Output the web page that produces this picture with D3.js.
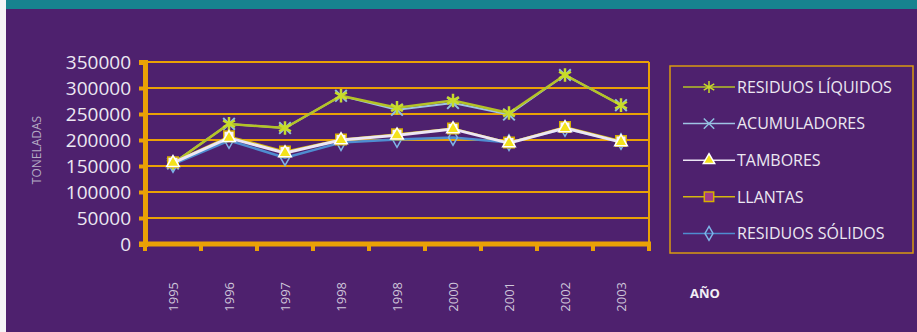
<!DOCTYPE html>
<html>
<head>
<meta charset="utf-8">
<script src="https://cdn.jsdelivr.net/npm/d3@7"></script>
<style>
  body { margin: 0; background: #4e216e; }
  svg { display: block; }
</style>
</head>
<body>
<svg id="drawing_region"></svg>
<script>
// categories as printed under the axis (1998 really appears twice)
const years = ['1995', '1996', '1997', '1998', '1998', '2000', '2001', '2002', '2003'];
const yTicks = [0, 50000, 100000, 150000, 200000, 250000, 300000, 350000];

const liquidos    = [155000, 231000, 223000, 285000, 262000, 276000, 252000, 325000, 267000];
const acumuladores = [155000, 231000, 223000, 285000, 258000, 271000, 249000, 325000, 267000];
const tambores    = [156000, 204000, 175000, 200000, 209000, 221000, 194000, 223000, 196000];
const llantas     = [157000, 207000, 178000, 201000, 211000, 222000, 195000, 225000, 198000];
const solidos     = [153000, 199000, 166000, 195000, 201000, 205000, 195000, 222000, 197000];

const seriesNames = ['RESIDUOS LÍQUIDOS', 'ACUMULADORES', 'TAMBORES', 'LLANTAS', 'RESIDUOS SÓLIDOS'];

class LineChart {

    constructor(config) {
        this.config = config;
        this.series = [
            { name: seriesNames[0], values: liquidos, line: '#b4c326', width: 2.5,
              symbol: d3.symbolAsterisk, size: 130, fill: 'none', stroke: '#c8dc2a', sw: 2.5 },
            { name: seriesNames[1], values: acumuladores, line: '#9fc4e4', width: 2,
              symbol: d3.symbolTimes || d3.symbolX, size: 90, fill: 'none', stroke: '#8fc0e0', sw: 2 },
            { name: seriesNames[2], values: tambores, line: '#ece6f4', width: 3,
              symbol: d3.symbolTriangle, size: 70, fill: '#f4e21a', stroke: '#ffffff', sw: 1.5 },
            { name: seriesNames[3], values: llantas, line: '#d4b810', width: 2,
              symbol: d3.symbolSquare, size: 110, fill: '#f6f0fa', stroke: '#d8b000', sw: 1.5 },
            { name: seriesNames[4], values: solidos, line: '#4f8cd0', width: 2.5,
              symbol: d3.symbolDiamond, size: 70, fill: 'none', stroke: '#7db4e8', sw: 1.5 }
        ];
        this.drawOrder = [1, 0, 4, 3, 2];
        this.init();
    }

    init() {
        let self = this;
        const c = self.config;

        self.svg = d3.select(c.parent)
            .attr('width', c.width)
            .attr('height', c.height);

        // background frame: teal strip at top, white edge at left
        self.svg.append('rect').attr('width', c.width).attr('height', c.height).attr('fill', '#4e216e');
        self.svg.append('rect').attr('width', c.width).attr('height', 9).attr('fill', '#17838f');
        self.svg.append('rect').attr('y', 0).attr('width', 6).attr('height', c.height).attr('fill', '#f4f4f6');

        self.xscale = d3.scaleBand()
            .domain(d3.range(years.length))
            .range([c.plot.left, c.plot.right]);

        self.yscale = d3.scaleLinear()
            .domain([0, 350000])
            .range([c.plot.bottom, c.plot.top]);

        self.chart = self.svg.append('g');
    }

    render() {
        let self = this;
        const c = self.config;
        const orange = '#eaa106';

        // horizontal grid
        self.chart.selectAll('.grid')
            .data(yTicks.filter(d => d > 0))
            .enter()
            .append('line')
            .attr('x1', c.plot.left)
            .attr('x2', c.plot.right)
            .attr('y1', d => self.yscale(d))
            .attr('y2', d => self.yscale(d))
            .attr('stroke', orange)
            .attr('stroke-width', 2);

        // right border
        self.chart.append('line')
            .attr('x1', c.plot.right).attr('x2', c.plot.right)
            .attr('y1', self.yscale(350000)).attr('y2', c.plot.bottom)
            .attr('stroke', orange).attr('stroke-width', 2);

        // y axis
        const yAxis = d3.axisLeft(self.yscale)
            .tickValues(yTicks)
            .tickSize(6)
            .tickPadding(8)
            .tickFormat(d => d);
        const ya = self.chart.append('g')
            .attr('transform', `translate(${c.plot.left}, 0)`)
            .call(yAxis);
        ya.select('.domain').attr('stroke', orange).attr('stroke-width', 5);
        ya.selectAll('.tick line').attr('stroke', orange).attr('stroke-width', 4);
        ya.selectAll('.tick text')
            .attr('fill', '#ece8f2')
            .style('font-family', '"Open Sans", sans-serif')
            .style('font-size', '19px')
            .attr('dy', '0.34em');

        // x axis: ticks between categories
        const xa = self.chart.append('g')
            .attr('transform', `translate(0, ${c.plot.bottom})`);
        xa.append('line')
            .attr('x1', c.plot.left - 6).attr('x2', c.plot.right + 2)
            .attr('stroke', orange).attr('stroke-width', 5);
        xa.selectAll('.xtick')
            .data(d3.range(years.length + 1))
            .enter()
            .append('line')
            .attr('x1', d => c.plot.left + d * self.xscale.step())
            .attr('x2', d => c.plot.left + d * self.xscale.step())
            .attr('y1', 0).attr('y2', 7)
            .attr('stroke', orange).attr('stroke-width', 4);
        xa.selectAll('.xlabel')
            .data(years)
            .enter()
            .append('text')
            .attr('transform', (d, i) =>
                `translate(${self.xscale(i) + self.xscale.bandwidth() / 2 + 5}, 38) rotate(-90)`)
            .attr('text-anchor', 'end')
            .attr('fill', '#cfc6da')
            .style('font-family', '"Open Sans", sans-serif')
            .style('font-size', '13px')
            .text(d => d);

        // axis titles
        self.svg.append('text')
            .attr('transform', 'translate(41, 150) rotate(-90)')
            .attr('text-anchor', 'middle')
            .attr('fill', '#b4abc4')
            .style('font-family', '"Open Sans", sans-serif')
            .style('font-size', '12px')
            .text('TONELADAS');
        self.svg.append('text')
            .attr('x', 690).attr('y', 298)
            .attr('fill', '#f2eef6')
            .style('font-family', '"Open Sans", sans-serif')
            .style('font-size', '13px')
            .style('font-weight', 'bold')
            .text('AÑO');

        // lines and markers
        const line = d3.line()
            .x((d, i) => self.xscale(i) + self.xscale.bandwidth() / 2)
            .y(d => self.yscale(d));

        self.drawOrder.forEach(k => {
            const s = self.series[k];
            const g = self.chart.append('g');
            g.append('path')
                .datum(s.values)
                .attr('d', line)
                .attr('fill', 'none')
                .attr('stroke', s.line)
                .attr('stroke-width', s.width)
                .attr('stroke-linejoin', 'round');
            g.selectAll('path.mark')
                .data(s.values)
                .enter()
                .append('path')
                .attr('class', 'mark')
                .attr('transform', (d, i) =>
                    `translate(${self.xscale(i) + self.xscale.bandwidth() / 2}, ${self.yscale(d)})`)
                .attr('d', d3.symbol().type(s.symbol).size(s.size))
                .attr('fill', s.fill)
                .attr('stroke', s.stroke)
                .attr('stroke-width', s.sw);
        });

        // legend
        const L = c.legend;
        self.svg.append('rect')
            .attr('x', L.x).attr('y', L.y)
            .attr('width', L.w).attr('height', L.h)
            .attr('fill', 'none')
            .attr('stroke', '#d99a10')
            .attr('stroke-width', 1.5);

        const items = self.svg.selectAll('.legend')
            .data(self.series)
            .enter()
            .append('g')
            .attr('transform', (d, i) => `translate(${L.x + 13}, ${L.y + 21 + i * 36.6})`);
        items.append('line')
            .attr('x1', 0).attr('x2', 52)
            .attr('stroke', d => d.line)
            .attr('stroke-width', 1.5);
        items.append('path')
            .attr('transform', 'translate(26, 0)')
            .attr('d', d => d3.symbol().type(d.symbol).size(d.size * 0.8)())
            .attr('fill', d => d.name === 'LLANTAS' ? '#a03c8c' : d.fill)
            .attr('stroke', d => d.stroke)
            .attr('stroke-width', 1.5);
        items.append('text')
            .attr('x', 54)
            .attr('dy', '0.36em')
            .attr('fill', '#ece8f2')
            .style('font-family', '"Open Sans", sans-serif')
            .style('font-size', '16px')
            .text(d => d.name);
    }
}

const config = {
    parent: '#drawing_region',
    width: 917,
    height: 332,
    plot: { left: 145, right: 649, top: 62, bottom: 244 },
    legend: { x: 670, y: 66, w: 243, h: 187 }
};

const line_chart = new LineChart(config);
line_chart.render();
</script>
</body>
</html>
